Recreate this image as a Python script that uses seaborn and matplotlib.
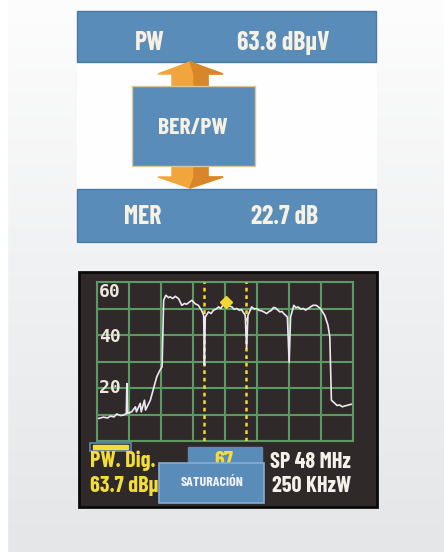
import numpy as np
import pandas as pd
import matplotlib
matplotlib.use("Agg")
import matplotlib.pyplot as plt
from matplotlib.patches import Rectangle, Polygon
from matplotlib.colors import LinearSegmentedColormap
import seaborn as sns

# ---------------- data ----------------
freq_mhz = [818.3, 819.2, 820.0, 820.5, 821.2, 821.7, 822.4, 823.0, 823.5, 823.6, 823.75,
            824.5, 825.2, 825.4, 826.1, 826.3, 826.9, 827.1, 828.0, 828.6, 829.2, 829.8,
            830.2, 830.5, 830.9, 831.4, 831.7, 832.2, 832.7, 833.3, 833.9, 834.4, 834.8,
            835.3, 835.8, 836.4, 837.0, 837.6, 838.0, 838.14, 838.3, 838.9, 839.4, 839.8,
            840.3, 840.8, 841.2, 841.6, 842.3, 842.8, 843.3, 843.7, 844.2, 844.7, 845.1,
            845.8, 846.05, 846.3, 847.0, 847.5, 847.9, 848.4, 848.9, 849.4, 849.8, 850.3,
            850.7, 851.1, 851.5, 852.0, 852.3, 852.7, 853.0, 853.7, 854.03, 854.3, 854.9,
            855.3, 855.7, 856.2, 856.7, 857.1, 857.6, 858.1, 858.5, 859.1, 859.9, 860.7,
            861.3, 861.65, 861.95, 862.6, 863.0, 863.5, 864.0, 864.4, 865.0, 865.7]
level_db = [8.5, 9.0, 8.7, 9.4, 9.1, 10.2, 9.6, 9.8, 10.4, 21.7, 10.4,
            11.0, 12.9, 11.0, 14.2, 11.0, 15.4, 11.7, 15.4, 19.8, 24.2, 26.7,
            28.0, 53.1, 55.0, 54.1, 54.4, 53.8, 54.6, 53.7, 51.2, 51.9, 51.6,
            52.4, 53.1, 51.8, 51.2, 49.3, 47.4, 28.6, 46.8, 48.7, 48.1, 49.3,
            49.8, 50.6, 50.0, 51.2, 51.8, 50.9, 50.6, 49.7, 50.0, 49.3, 49.6,
            47.4, 35.0, 47.4, 50.6, 49.8, 50.0, 49.3, 49.1, 48.6, 48.1, 48.9,
            49.3, 50.4, 50.2, 49.2, 48.7, 48.9, 48.1, 46.8, 29.6, 46.8, 51.2,
            50.3, 50.6, 49.8, 50.0, 49.4, 50.0, 50.7, 51.2, 51.2, 50.0, 47.4,
            43.7, 39.3, 15.4, 14.2, 13.4, 13.6, 12.9, 13.2, 13.5, 13.9]
marker_freqs = [838.0, 846.0]
peak_marker = (842.2, 52.6)
y_labels = [60, 40, 20]
top_readouts = [("PW", "63.8 dBµV"), ("MER", "22.7 dB")]
mode_label = "BER/PW"
bottom_left = ["PW. Dig.", "63.7 dBµV"]
bottom_right = ["SP 48 MHz", "250 KHzW"]
channel_label = "67"
warning_label = "SATURACIÓN"

# ---------------- figure ----------------
sns.set_theme(style="white")
narrow = ["Barlow Condensed", "Roboto Condensed", "DejaVu Sans"]
mono = ["DejaVu Sans Mono", "DejaVu Sans"]

fig = plt.figure(figsize=(4.44, 5.52), dpi=100)
bg = fig.add_axes([0, 0, 1, 1])
bg.set_xlim(0, 444)
bg.set_ylim(552, 0)
bg.axis("off")

grad = np.linspace(0, 1, 256).reshape(-1, 1)
cm = LinearSegmentedColormap.from_list("g", ["#fdfdfd", "#f0f1f2", "#e5e6e8"])
bg.imshow(grad, cmap=cm, extent=[0, 444, 552, 0], aspect="auto", zorder=0)
bg.add_patch(Rectangle((0, 0), 7, 552, color="white", zorder=1))
bg.add_patch(Rectangle((77, 11), 299, 232, color="#fefefe", zorder=1))

blue = "#5a8cb9"
cream = "#f6f1e2"

def txt(x, y, s, size, color, ha="center", z=5, fam=None):
    bg.text(x, y, s, family=fam or narrow, fontstretch="condensed", weight="bold",
            fontsize=size, color=color, ha=ha, va="center", zorder=z)

# top and bottom bars
bg.add_patch(Rectangle((77, 11), 299, 51, facecolor=blue, edgecolor="#4a7aa4", lw=1, zorder=2))
bg.add_patch(Rectangle((77, 189), 299, 53, facecolor=blue, edgecolor="#4a7aa4", lw=1, zorder=2))
for (lab, val), yc, xl, xv in [(top_readouts[0], 43, 150, 283), (top_readouts[1], 217, 143, 285)]:
    txt(xl, yc, lab, 18.5, cream)
    txt(xv, yc, val, 18.5, cream)

# arrows
orange = "#f2a53c"
dark_or = "#d9862a"
up = [(172, 86), (172, 74), (158, 74), (190, 62), (223, 74), (208, 74), (208, 86)]
dn = [(172, 166), (172, 177), (158, 177), (190, 188), (223, 177), (208, 177), (208, 166)]
bg.add_patch(Polygon(up, closed=True, color=orange, zorder=3))
bg.add_patch(Polygon(dn, closed=True, color=orange, zorder=3))
bg.add_patch(Polygon([(194, 86), (194, 74), (190, 62), (223, 74), (208, 74), (208, 86)], closed=True, color=dark_or, zorder=3))
bg.add_patch(Polygon([(194, 166), (194, 177), (190, 188), (223, 177), (208, 177), (208, 166)], closed=True, color=dark_or, zorder=3))

bg.add_patch(Rectangle((132, 86), 123, 80, facecolor=blue, edgecolor="#d8c79a", lw=1, zorder=4))
txt(193, 128, mode_label, 17, cream)

# screen
bg.add_patch(Rectangle((79, 272), 298, 235, facecolor="#2f2a29", edgecolor="#0a0a0a", lw=2, zorder=2))

# spectrum axes
ax = fig.add_axes([97 / 444, 1 - 441 / 552, 256 / 444, 159 / 552])
ax.patch.set_alpha(0)
green = "#5d9a63"
ax.set_xlim(818, 866)
ax.set_ylim(0, 60)
ax.set_xticks(np.arange(818, 867, 6))
ax.set_yticks(np.arange(0, 61, 10))
ax.grid(True, color=green, lw=1.5)
ax.tick_params(length=0, labelbottom=False, labelleft=False)
for s in ax.spines.values():
    s.set_color(green)
    s.set_linewidth(1.5)

for f in marker_freqs:
    ax.axvline(f, color="#f2d733", lw=1.8, ls=(0, (1.5, 1.5)), zorder=3)

df = pd.DataFrame({"freq": freq_mhz, "level": level_db})
sns.lineplot(data=df, x="freq", y="level", ax=ax, color="#ece8f2", lw=1.2,
             estimator=None, sort=False, zorder=4)
ax.plot([peak_marker[0]], [peak_marker[1]], marker="D", ms=6, color="#f2d733", zorder=5)
ax.set_xlabel("")
ax.set_ylabel("")

for v, yy in zip(y_labels, [56.2, 39.3, 20.0]):
    ax.text(820.4, yy, str(v), family=mono, weight="bold", fontsize=13, color="#ece8de",
            ha="center", va="center", zorder=6)

# bottom readouts
yellow = "#f2dd3a"
bg.add_patch(Rectangle((90, 443), 41, 8, facecolor="none", edgecolor=blue, lw=1.2, zorder=3))
bg.add_patch(Rectangle((93, 445), 35, 4, color=yellow, zorder=3))
txt(90, 461, bottom_left[0], 16, yellow, ha="left", z=3)
txt(90, 486, bottom_left[1], 16, yellow, ha="left", z=3)
txt(270, 462, bottom_right[0], 16, "#f4f1ea", ha="left", z=3)
txt(272, 486, bottom_right[1], 16, "#f4f1ea", ha="left", z=3)

bg.add_patch(Rectangle((188, 447), 74, 26, color=blue, zorder=4))
txt(224, 461, channel_label, 16, yellow, z=4)
bg.add_patch(Rectangle((159, 463), 105, 40, facecolor=blue, edgecolor="#86acd3", lw=1.2, zorder=5))
txt(212, 482, warning_label, 10, "#f2f2f4", z=6)

fig.savefig("out.png", dpi=100)
